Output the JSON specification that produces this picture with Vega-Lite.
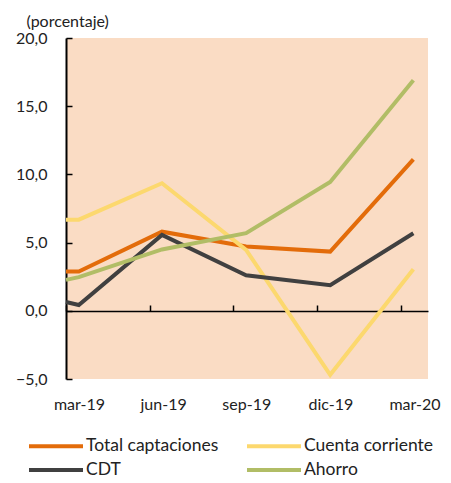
{
  "$schema": "https://vega.github.io/schema/vega-lite/v6.json",
  "width": 362,
  "height": 341,
  "autosize": {"type": "none"},
  "padding": {"left": 66, "top": 38, "right": 23, "bottom": 104},
  "background": "white",
  "config": {"view": {"fill": "#FADCC4", "stroke": null}, "font": "Lato"},
  "data": {"values": [
    {"fecha": "2019-03-17", "serie": "Total captaciones", "valor": 2.88},
    {"fecha": "2019-03-31", "serie": "Total captaciones", "valor": 2.88},
    {"fecha": "2019-06-30", "serie": "Total captaciones", "valor": 5.8},
    {"fecha": "2019-09-30", "serie": "Total captaciones", "valor": 4.71},
    {"fecha": "2019-12-31", "serie": "Total captaciones", "valor": 4.34},
    {"fecha": "2020-03-31", "serie": "Total captaciones", "valor": 11.1},
    {"fecha": "2019-03-17", "serie": "Cuenta corriente", "valor": 6.68},
    {"fecha": "2019-03-31", "serie": "Cuenta corriente", "valor": 6.68},
    {"fecha": "2019-06-30", "serie": "Cuenta corriente", "valor": 9.35},
    {"fecha": "2019-09-30", "serie": "Cuenta corriente", "valor": 4.47},
    {"fecha": "2019-12-31", "serie": "Cuenta corriente", "valor": -4.69},
    {"fecha": "2020-03-31", "serie": "Cuenta corriente", "valor": 3.05},
    {"fecha": "2019-03-17", "serie": "CDT", "valor": 0.64},
    {"fecha": "2019-03-31", "serie": "CDT", "valor": 0.42},
    {"fecha": "2019-06-30", "serie": "CDT", "valor": 5.56},
    {"fecha": "2019-09-30", "serie": "CDT", "valor": 2.61},
    {"fecha": "2019-12-31", "serie": "CDT", "valor": 1.88},
    {"fecha": "2020-03-31", "serie": "CDT", "valor": 5.69},
    {"fecha": "2019-03-17", "serie": "Ahorro", "valor": 2.27},
    {"fecha": "2019-03-31", "serie": "Ahorro", "valor": 2.47},
    {"fecha": "2019-06-30", "serie": "Ahorro", "valor": 4.5},
    {"fecha": "2019-09-30", "serie": "Ahorro", "valor": 5.69},
    {"fecha": "2019-12-31", "serie": "Ahorro", "valor": 9.45},
    {"fecha": "2020-03-31", "serie": "Ahorro", "valor": 16.9}
  ]},
  "mark": {"type": "line", "strokeWidth": 4, "strokeJoin": "miter"},
  "encoding": {
    "x": {
      "field": "fecha", "type": "temporal",
      "scale": {"domain": [{"year": 2019, "month": 3, "date": 17}, {"year": 2020, "month": 4, "date": 16}], "nice": false},
      "axis": {
        "title": null, "grid": false,
        "values": [{"year": 2019, "month": 3, "date": 17}, {"year": 2019, "month": 6, "date": 17}, {"year": 2019, "month": 9, "date": 16}, {"year": 2019, "month": 12, "date": 17}, {"year": 2020, "month": 3, "date": 18}],
        "offset": -68, "domainColor": "black", "domainWidth": 1.5, "tickColor": "black", "tickWidth": 1.5, "tickSize": -6,
        "labelPadding": 91, "labelOffset": 13, "labelFontSize": 16, "labelFont": "Lato", "labelColor": "#222222", "labelOverlap": false, "labelFlush": false, "labelBound": false,
        "labelExpr": "(month(datum.value)==2?'mar':month(datum.value)==5?'jun':month(datum.value)==8?'sep':'dic') + '-' + timeFormat(datum.value,'%y')"
      }
    },
    "y": {
      "field": "valor", "type": "quantitative",
      "scale": {"domain": [-5, 20], "nice": false},
      "axis": {
        "title": "(porcentaje)", "titleAngle": 0, "titleX": -40, "titleY": -12, "titleAlign": "left", "titleBaseline": "alphabetic",
        "titleFont": "Lato", "titleFontSize": 16, "titleFontWeight": "normal", "titleColor": "#222222",
        "grid": false, "values": [-5, 0, 5, 10, 15, 20],
        "domainColor": "black", "domainWidth": 2, "tickColor": "black", "tickWidth": 1.5, "tickSize": -6,
        "labelPadding": 25, "labelFontSize": 16, "labelFont": "Lato", "labelColor": "#222222",
        "labelExpr": "replace(format(datum.value, '.1f'), '.', ',')"
      }
    },
    "color": {
      "field": "serie", "type": "nominal",
      "scale": {"domain": ["Total captaciones", "Cuenta corriente", "CDT", "Ahorro"], "range": ["#E36C0A", "#FCD86E", "#404040", "#B1BD66"]},
      "legend": {
        "title": null, "orient": "none", "legendX": -22, "legendY": 396, "columns": 2, "direction": "horizontal",
        "symbolType": "M-2.7,0H2.7", "symbolStrokeWidth": 4, "symbolSize": 400,
        "labelFontSize": 17.5, "labelFont": "Lato", "labelColor": "#222222", "labelOffset": 18,
        "columnPadding": 20, "rowPadding": 3
      }
    }
  }
}
